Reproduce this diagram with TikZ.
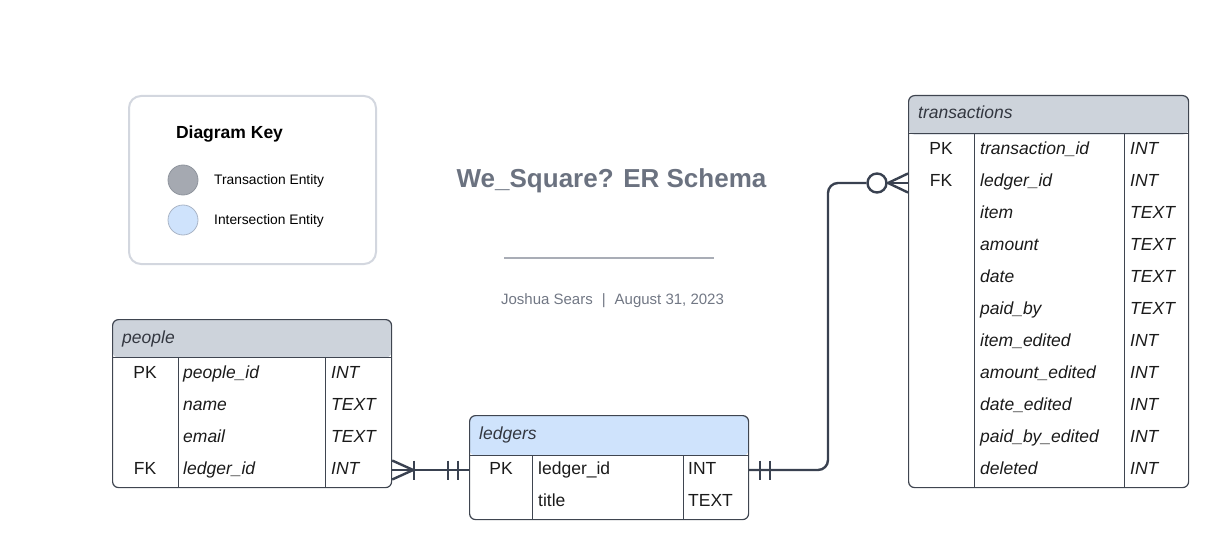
\documentclass[tikz,border=0pt]{standalone}
\usepackage{fontspec}
\setmainfont{Liberation Sans}
\usetikzlibrary{calc}
\definecolor{hdrgray}{HTML}{CDD3DB}
\definecolor{hdrblue}{HTML}{CFE3FC}
\definecolor{tblline}{HTML}{3F4550}
\definecolor{connc}{HTML}{394150}
\definecolor{titlec}{HTML}{6B7280}
\definecolor{subc}{HTML}{717784}
\definecolor{keyborder}{HTML}{D3D7DF}
\definecolor{keygray}{HTML}{A5A9B1}
\definecolor{keygrayedge}{HTML}{8F949D}
\definecolor{keyblue}{HTML}{CFE3FC}
\definecolor{keyblueedge}{HTML}{A9B4C6}
\definecolor{seprule}{HTML}{A9ADB6}
\definecolor{hdrtext}{HTML}{333740}
\definecolor{celltext}{HTML}{1A1A1A}
\begin{document}
\begin{tikzpicture}[x=1pt,y=-1pt,
  tblbox/.style 2 args={rectangle, draw=tblline, line width=1.2pt, rounded corners=6pt,
    anchor=north west, inner sep=0pt,
    path picture={\fill[#1] (path picture bounding box.north west) rectangle ([yshift=-#2pt]path picture bounding box.north east);}},
  gridl/.style={draw=tblline, line width=1pt},
  cell/.style={font=\fontsize{17.5}{20}\selectfont, inner sep=0pt, text=celltext},
  hdr/.style={font=\itshape\fontsize{17.5}{20}\selectfont, inner sep=0pt, text=hdrtext, anchor=base west},
  kw/.style={cell, anchor=base},
  fld/.style={cell, anchor=base west},
  conn/.style={draw=connc, line width=2.4pt},
  keytext/.style={font=\fontsize{13.8}{16}\selectfont, inner sep=0pt, anchor=base west, text=black},
  keydot/.style={circle, minimum size=30pt, inner sep=0pt, line width=0.8pt}
]
\useasboundingbox (0,0) rectangle (1228,559);

% ---------------- Key ----------------
\node[rectangle, draw=keyborder, line width=2pt, rounded corners=12pt, anchor=north west,
      minimum width=247pt, minimum height=168pt, inner sep=0pt] (key) at (128,95) {};
\node[font=\bfseries\fontsize{17.5}{20}\selectfont, anchor=base, inner sep=0pt] (keytitle) at (229.5,139) {Diagram Key};
\node[keydot, fill=keygray, draw=keygrayedge] (kc1) at (183,180) {};
\node[keydot, fill=keyblue, draw=keyblueedge] (kc2) at (183,220) {};
\node[keytext] (kt1) at (214,184) {Transaction Entity};
\node[keytext] (kt2) at (214,224) {Intersection Entity};

% ---------------- Title ----------------
\node[anchor=base, font=\bfseries\fontsize{26}{30}\selectfont, text=titlec, inner sep=0pt] (title) at (611.5,187) {We\_Square? ER Schema};
\draw[seprule, line width=2pt] (504,258) -- (714,258);
\node[anchor=base, font=\fontsize{15}{18}\selectfont, text=subc, inner sep=0pt] (sub) at (612.5,304.5) {Joshua Sears\hspace{9pt}|\hspace{9pt}August 31, 2023};

% ---------------- people ----------------
\node[tblbox={hdrgray}{38}, minimum width=279pt, minimum height=168pt] (people) at (112,319) {};
\draw[gridl] (112,357) -- (391,357);
\draw[gridl] (178,357) -- (178,487);
\draw[gridl] (325,357) -- (325,487);
\node[hdr] (peopleT) at (122,343) {people};
\node[kw] (p1k) at (145,378) {PK};
\node[fld] (p1) at (183,378) {\itshape people\_id};
\node[fld] (p1t) at (331,378) {\itshape INT};
\node[fld] (p2) at (183,410) {\itshape name};
\node[fld] (p2t) at (331,410) {\itshape TEXT};
\node[fld] (p3) at (183,442) {\itshape email};
\node[fld] (p3t) at (331,442) {\itshape TEXT};
\node[kw] (p4k) at (145,474) {FK};
\node[fld] (p4) at (183,474) {\itshape ledger\_id};
\node[fld] (p4t) at (331,474) {\itshape INT};

% ---------------- ledgers ----------------
\node[tblbox={hdrblue}{40}, minimum width=279pt, minimum height=104pt] (ledgers) at (469,415) {};
\draw[gridl] (469,455) -- (748,455);
\draw[gridl] (532,455) -- (532,519);
\draw[gridl] (683,455) -- (683,519);
\node[hdr] (ledgersT) at (479,439) {ledgers};
\node[kw] (l1k) at (501,474) {PK};
\node[fld] (l1) at (538,474) {ledger\_id};
\node[fld] (l1t) at (688,474) {INT};
\node[fld] (l2) at (538,506) {title};
\node[fld] (l2t) at (688,506) {TEXT};

% ---------------- transactions ----------------
\node[tblbox={hdrgray}{39}, minimum width=280pt, minimum height=392pt] (trans) at (908,95) {};
\draw[gridl] (908,134) -- (1188,134);
\draw[gridl] (974,134) -- (974,487);
\draw[gridl] (1124,134) -- (1124,487);
\node[hdr] (transT) at (918,118) {transactions};
\node[kw] (t1k) at (941,154) {PK};
\node[kw] (t2k) at (941,186) {FK};
\foreach \n/\f/\t [count=\i from 0] in {t1/transaction\_id/INT, t2/ledger\_id/INT, t3/item/TEXT,
    t4/amount/TEXT, t5/date/TEXT, t6/paid\_by/TEXT, t7/item\_edited/INT, t8/amount\_edited/INT,
    t9/date\_edited/INT, t10/paid\_by\_edited/INT, t11/deleted/INT}{
  \node[fld] (\n) at (980,154+32*\i) {\itshape \f};
  \node[fld] (\n t) at (1130,154+32*\i) {\itshape \t};
}

% ---------------- connectors ----------------
\coordinate (rowA) at (0,470);
\coordinate (rowB) at (0,183);

% people (many, mandatory) -- ledgers (one and only one)
\draw[conn] (people.east |- rowA) -- (ledgers.west |- rowA);
\draw[conn] ($(people.east |- rowA)+(0,-9.5)$) -- ($(people.east |- rowA)+(21,0)$) -- ($(people.east |- rowA)+(0,9.5)$);
\draw[conn] ($(people.east |- rowA)+(22,-9.5)$) -- ($(people.east |- rowA)+(22,9.5)$);
\draw[conn] ($(ledgers.west |- rowA)+(-21,-9.5)$) -- ($(ledgers.west |- rowA)+(-21,9.5)$);
\draw[conn] ($(ledgers.west |- rowA)+(-11,-9.5)$) -- ($(ledgers.west |- rowA)+(-11,9.5)$);

% ledgers (one and only one) -- transactions (zero or many)
\node[circle, draw=connc, line width=2.4pt, fill=white, minimum size=19pt, inner sep=0pt] (ocirc) at (877,183) {};
\draw[conn, rounded corners=10pt] (ledgers.east |- rowA) -| (828,300) |- (ocirc.west);
\draw[conn] ($(ledgers.east |- rowA)+(11,-9.5)$) -- ($(ledgers.east |- rowA)+(11,9.5)$);
\draw[conn] ($(ledgers.east |- rowA)+(21,-9.5)$) -- ($(ledgers.east |- rowA)+(21,9.5)$);
\draw[conn] (ocirc.east) -- (trans.west |- rowB);
\draw[conn] ($(trans.west |- rowB)+(0,-9.5)$) -- ($(trans.west |- rowB)+(-20,0)$) -- ($(trans.west |- rowB)+(0,9.5)$);
\end{tikzpicture}
\end{document}
